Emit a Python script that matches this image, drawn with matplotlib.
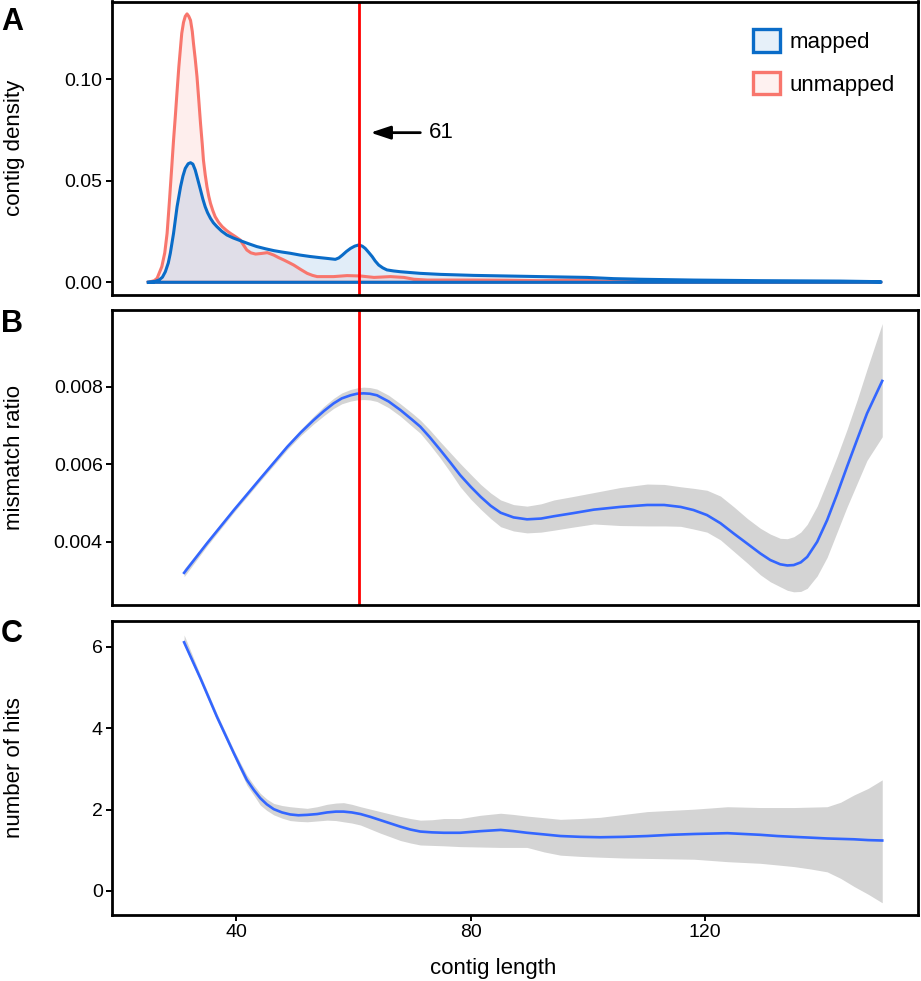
import numpy as np
import matplotlib
matplotlib.use("Agg")
import matplotlib.pyplot as plt
from matplotlib.patches import Patch
from matplotlib.colors import to_rgba

plt.rcParams['font.family'] = ['Liberation Sans', 'DejaVu Sans']

# ---------------- Data ----------------
# Panel A: density of contig lengths
mapped_x = [25.0, 26.0, 26.8, 27.4, 27.9, 28.4, 28.75, 29.3, 29.9, 30.5, 30.9, 31.3, 31.8, 32.2,
            32.6, 33.0, 33.4, 33.9, 34.3, 34.7, 35.1, 35.6, 36.1, 36.7, 37.5, 38.4, 39.5, 40.7,
            42.0, 43.5, 45.0, 46.4, 47.8, 49.2, 50.9, 52.6, 54.4, 55.7, 56.9, 57.5, 58.1, 58.8,
            59.5, 60.2, 60.9, 61.5, 62.0, 62.6, 63.2, 63.7, 64.3, 65.0, 65.7, 66.8, 68.0, 71.4,
            74.8, 80.5, 86.2, 91.9, 99.9, 104.4, 109.0, 118.1, 129.4, 143.1, 150.0]
mapped_y = [0.0, 0.0003, 0.0011, 0.0025, 0.0052, 0.0095, 0.0143, 0.0241, 0.0372, 0.0471, 0.0523,
            0.0561, 0.0584, 0.0589, 0.0582, 0.0553, 0.0510, 0.0455, 0.0410, 0.0372, 0.0343,
            0.0315, 0.0293, 0.0274, 0.0252, 0.0233, 0.0218, 0.0205, 0.0191, 0.0176, 0.0165,
            0.0156, 0.0149, 0.0143, 0.0134, 0.0127, 0.0121, 0.0117, 0.0113, 0.0120, 0.0134,
            0.0152, 0.0167, 0.0178, 0.0184, 0.0178, 0.0167, 0.0147, 0.0126, 0.0105, 0.0085,
            0.0071, 0.0061, 0.0056, 0.0052, 0.0044, 0.0039, 0.0034, 0.0031, 0.0028, 0.0024,
            0.0018, 0.0015, 0.0011, 0.0008, 0.0006, 0.0003]

unmapped_x = [25.0, 26.0, 26.5, 27.3, 27.8, 28.2, 28.6, 29.0, 29.3, 29.6, 29.9, 30.2, 30.5, 30.7,
              31.0, 31.3, 31.6, 31.9, 32.2, 32.5, 32.7, 33.0, 33.3, 33.6, 33.9, 34.2, 34.4,
              34.7, 35.0, 35.3, 35.6, 36.0, 36.4, 37.0, 37.6, 38.3, 39.0, 39.8, 40.7, 41.2,
              41.8, 42.5, 43.3, 44.3, 45.3, 46.4, 47.2, 48.1, 49.0, 49.8, 51.0, 52.1, 53.0,
              53.8, 56.6, 58.9, 61.2, 63.5, 66.3, 68.6, 70.3, 72.6, 76.0, 80.5, 86.2, 91.9,
              97.0, 99.9, 103.0, 108.0, 120.0, 135.0, 150.0]
unmapped_y = [0.0, 0.0008, 0.002, 0.0077, 0.0145, 0.0241, 0.040, 0.057, 0.070, 0.0816, 0.094,
              0.106, 0.116, 0.1226, 0.128, 0.131, 0.1322, 0.131, 0.129, 0.1235, 0.1177, 0.110,
              0.1013, 0.090, 0.0783, 0.068, 0.0602, 0.053, 0.0471, 0.0425, 0.0389, 0.0353,
              0.0323, 0.0295, 0.0274, 0.0256, 0.0241, 0.0226, 0.0208, 0.0185, 0.0159, 0.0145,
              0.0139, 0.0142, 0.0146, 0.0134, 0.0122, 0.011, 0.0097, 0.0085, 0.0063, 0.0044,
              0.0034, 0.0028, 0.0028, 0.0033, 0.0031, 0.0024, 0.0028, 0.0024, 0.0015, 0.0011,
              0.0011, 0.0011, 0.0010, 0.0008, 0.0011, 0.0011, 0.0005, 0.0003, 0.0002, 0.0001,
              0.0]

cutoff = 61

# Panel B: mismatch ratio smooth (fit, upper and lower band)
mm_x = [31.1, 35.0, 39.6, 44.1, 48.7, 51.0, 53.2, 55.0, 56.6, 58.0, 59.5, 60.6, 61.7, 62.8,
        64.0, 66.0, 68.0, 70.0, 71.4, 73.0, 74.8, 76.5, 78.2, 80.0, 81.7, 83.4, 85.1, 87.3,
        89.6, 92.0, 94.2, 97.5, 101.0, 105.5, 110.1, 113.0, 115.8, 118.0, 120.3, 122.6,
        124.9, 127.2, 129.4, 131.1, 132.8, 134.0, 135.1, 136.3, 137.4, 139.1, 140.8, 142.5,
        144.2, 145.9, 147.6, 150.2]
mm_fit = [0.0032, 0.00396, 0.00482, 0.00563, 0.00645, 0.00682, 0.00714, 0.00738, 0.00757,
          0.0077, 0.00778, 0.00782, 0.00783, 0.00782, 0.00778, 0.00762, 0.0074, 0.00715,
          0.00697, 0.0067, 0.00637, 0.00605, 0.00572, 0.00542, 0.00516, 0.00493, 0.00475,
          0.00463, 0.00458, 0.0046, 0.00466, 0.00474, 0.00483, 0.0049, 0.00495, 0.00495,
          0.0049, 0.00482, 0.00469, 0.00448, 0.00421, 0.00395, 0.0037, 0.00353, 0.00342,
          0.00339, 0.0034, 0.00347, 0.00361, 0.004, 0.00456, 0.00523, 0.00594, 0.00663,
          0.00731, 0.00815]
mm_hi = [0.0033, 0.00403, 0.00488, 0.00569, 0.00652, 0.0069, 0.00724, 0.0075, 0.0077, 0.00784,
         0.00793, 0.00797, 0.00799, 0.00798, 0.00794, 0.00778, 0.00756, 0.00732, 0.00714,
         0.00689, 0.00658, 0.0063, 0.00602, 0.00574, 0.00548, 0.00526, 0.00508, 0.00496,
         0.00492, 0.00498, 0.00508, 0.00517, 0.00527, 0.0054, 0.00549, 0.00548, 0.00542,
         0.00538, 0.00533, 0.00518, 0.0049, 0.0046, 0.00435, 0.0042, 0.00409, 0.00408,
         0.00413, 0.00425, 0.00445, 0.00492, 0.00555, 0.0062, 0.0069, 0.00765, 0.00845,
         0.00963]
mm_lo = [0.0031, 0.00389, 0.00476, 0.00557, 0.00638, 0.00674, 0.00704, 0.00726, 0.00744,
         0.00756, 0.00763, 0.00766, 0.00767, 0.00766, 0.00762, 0.00746, 0.00724, 0.00698,
         0.0068, 0.00651, 0.00616, 0.0058, 0.00542, 0.0051, 0.00484, 0.0046, 0.00439,
         0.00428, 0.00423, 0.00425, 0.0043, 0.00438, 0.00446, 0.00442, 0.00441, 0.00441,
         0.0044, 0.00433, 0.00425, 0.00405, 0.00375, 0.00345, 0.00315, 0.00297, 0.00284,
         0.00275, 0.00271, 0.00272, 0.0028, 0.00312, 0.0036, 0.00425, 0.0049, 0.0055,
         0.0061, 0.00671]

# Panel C: number of hits smooth (fit, upper and lower band)
hits_x = [31.1, 33.9, 36.7, 39.6, 40.7, 41.8, 43.0, 44.1, 45.2, 46.4, 47.8, 49.2, 50.6, 52.1,
          53.8, 55.5, 57.0, 58.3, 59.7, 61.2, 62.9, 64.6, 66.3, 68.0, 69.7, 71.4, 73.4, 75.4,
          78.2, 81.7, 85.1, 87.3, 89.6, 92.5, 95.3, 98.7, 102.1, 106.1, 110.1, 114.1, 118.1,
          121.0, 123.8, 126.6, 129.4, 132.3, 135.1, 138.0, 140.8, 143.1, 145.4, 147.8, 150.2]
hits_fit = [6.11, 5.22, 4.28, 3.38, 3.05, 2.73, 2.48, 2.28, 2.13, 2.01, 1.93, 1.88, 1.86, 1.87,
            1.89, 1.93, 1.95, 1.95, 1.93, 1.89, 1.82, 1.74, 1.66, 1.58, 1.51, 1.46, 1.44, 1.43,
            1.43, 1.47, 1.50, 1.47, 1.43, 1.39, 1.35, 1.33, 1.32, 1.33, 1.35, 1.38, 1.40, 1.41,
            1.42, 1.40, 1.38, 1.35, 1.33, 1.31, 1.29, 1.28, 1.27, 1.25, 1.24]
hits_hi = [6.29, 5.30, 4.36, 3.46, 3.15, 2.85, 2.60, 2.40, 2.26, 2.15, 2.10, 2.07, 2.05, 2.03,
           2.07, 2.13, 2.16, 2.17, 2.13, 2.07, 2.01, 1.95, 1.89, 1.83, 1.78, 1.74, 1.75, 1.78,
           1.78, 1.86, 1.91, 1.88, 1.84, 1.80, 1.76, 1.78, 1.81, 1.88, 1.95, 1.98, 2.01, 2.04,
           2.07, 2.06, 2.05, 2.05, 2.05, 2.06, 2.07, 2.18, 2.36, 2.52, 2.73]
hits_lo = [6.04, 5.14, 4.20, 3.30, 2.95, 2.60, 2.35, 2.11, 1.98, 1.87, 1.79, 1.73, 1.71, 1.70,
           1.72, 1.74, 1.73, 1.70, 1.67, 1.62, 1.52, 1.42, 1.33, 1.24, 1.18, 1.13, 1.12, 1.11,
           1.09, 1.08, 1.07, 1.07, 1.07, 0.96, 0.88, 0.85, 0.83, 0.81, 0.80, 0.79, 0.78, 0.75,
           0.72, 0.70, 0.68, 0.64, 0.60, 0.54, 0.47, 0.31, 0.11, -0.08, -0.29]

x_ticks = [40, 80, 120]
a_ticks = [0.00, 0.05, 0.10]
b_ticks = [0.004, 0.006, 0.008]
c_ticks = [0, 2, 4, 6]

# ---------------- Styling ----------------
MAPPED = "#0A6CC8"
UNMAPPED = "#F8766D"
SMOOTH = "#3366FF"
RIBBON = "#D4D4D4"
XLIM = (18.75, 156.25)
TICK_FS = 14
TITLE_FS = 16

W, H = 921, 981
fig = plt.figure(figsize=(W / 100, H / 100), dpi=100)

def box(top, bottom, left=111.7, right=917.7):
    return [left / W, 1 - bottom / H, (right - left) / W, (bottom - top) / H]

axA = fig.add_axes(box(1.5, 295))
axB = fig.add_axes(box(310, 605))
axC = fig.add_axes(box(620.7, 915))

for ax in (axA, axB, axC):
    for s in ax.spines.values():
        s.set_linewidth(2.0)
        s.set_color("black")
    ax.set_xlim(*XLIM)
    ax.tick_params(axis='both', length=4, width=1.4, labelsize=TICK_FS, pad=2.5, color='black')
    ax.set_facecolor('white')

# Panel A
for xs, ys, col in ((unmapped_x, unmapped_y, UNMAPPED), (mapped_x, mapped_y, MAPPED)):
    xs = np.asarray(xs); ys = np.asarray(ys)
    px = np.r_[xs, xs[-1], xs[0]]
    py = np.r_[ys, 0.0, 0.0]
    axA.fill(px, py, facecolor=to_rgba(col, 0.12), edgecolor='none')
    axA.plot(px, py, color=col, lw=2.2, solid_joinstyle='round')
axA.axvline(cutoff, color='#FF0000', lw=2.0)
axA.annotate('', xy=(62.9, 0.0737), xytext=(71.4, 0.0737),
             arrowprops=dict(arrowstyle='-|>,head_length=0.6,head_width=0.2',
                             color='black', lw=2.0, mutation_scale=20, shrinkA=0, shrinkB=0))
axA.text(72.8, 0.0737, str(cutoff), fontsize=16, va='center', ha='left')
axA.set_ylim(-0.00626, 0.1383)
axA.set_yticks(a_ticks)
axA.set_yticklabels([f"{v:.2f}" for v in a_ticks])
axA.set_xticks([])
axA.set_ylabel('contig density', fontsize=TITLE_FS)
handles = [Patch(facecolor=to_rgba(MAPPED, 0.1), edgecolor=MAPPED, lw=2.4, label='mapped'),
           Patch(facecolor=to_rgba(UNMAPPED, 0.1), edgecolor=UNMAPPED, lw=2.4, label='unmapped')]
axA.legend(handles=handles, loc='upper left', bbox_to_anchor=(0.796, 0.905), frameon=False,
           fontsize=16, handlelength=1.2, handleheight=1.17, handletextpad=0.45,
           labelspacing=0.85, borderpad=0, borderaxespad=0)

# Panel B
axB.fill_between(mm_x, mm_lo, mm_hi, color=RIBBON, lw=0)
axB.plot(mm_x, mm_fit, color=SMOOTH, lw=1.9, solid_joinstyle='round')
axB.axvline(cutoff, color='#FF0000', lw=2.0)
axB.set_ylim(0.00237, 0.00998)
axB.set_yticks(b_ticks)
axB.set_yticklabels([f"{v:.3f}" for v in b_ticks])
axB.set_xticks([])
axB.set_ylabel('mismatch ratio', fontsize=TITLE_FS)

# Panel C
axC.fill_between(hits_x, hits_lo, hits_hi, color=RIBBON, lw=0)
axC.plot(hits_x, hits_fit, color=SMOOTH, lw=1.9, solid_joinstyle='round')
axC.set_ylim(-0.59, 6.64)
axC.set_yticks(c_ticks)
axC.set_xticks(x_ticks)
axC.set_ylabel('number of hits', fontsize=TITLE_FS)
axC.set_xlabel('contig length', fontsize=TITLE_FS)
axC.xaxis.set_label_coords(0.473, -0.145)

for ax in (axA, axB, axC):
    ax.yaxis.set_label_coords(-0.107, 0.5)

for lab, top in (('A', 7), ('B', 309), ('C', 619)):
    fig.text(0.001, 1 - top / H, lab, fontsize=22, fontweight='bold', va='top', ha='left')

fig.savefig('out.png', dpi=100)
